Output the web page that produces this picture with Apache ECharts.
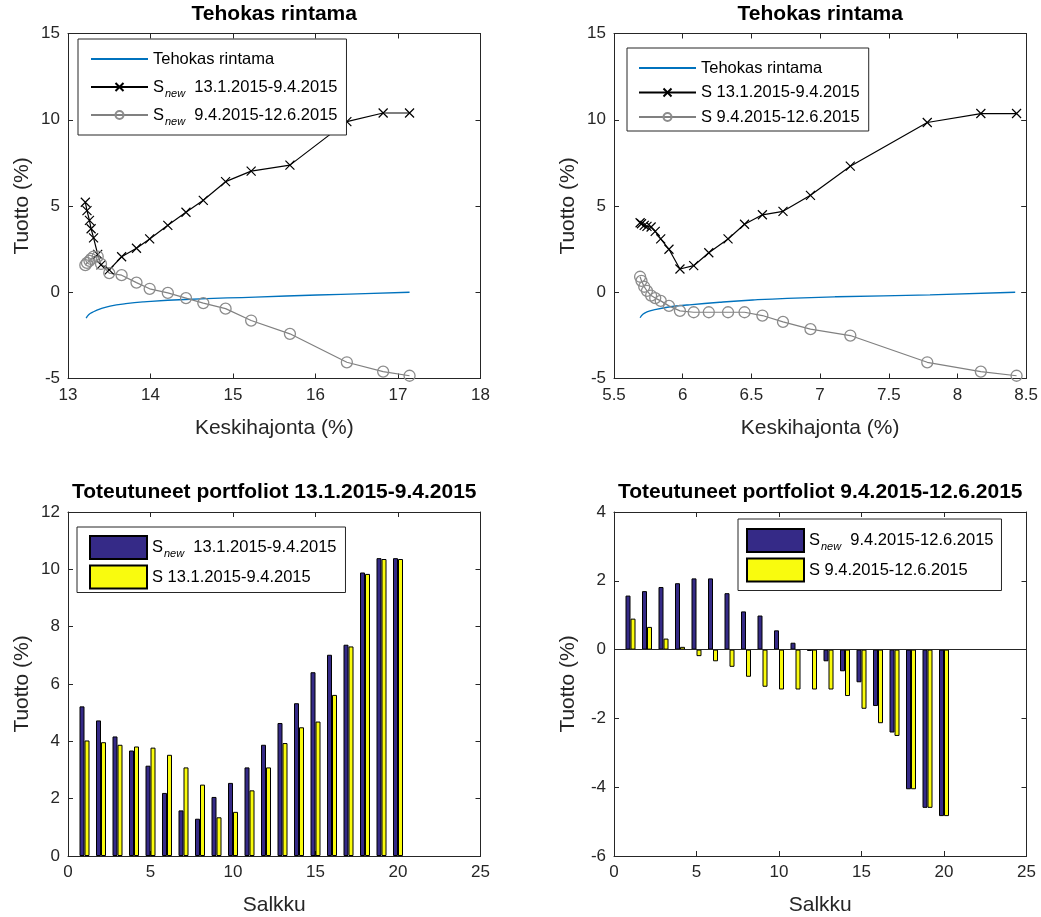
<!DOCTYPE html>
<html>
<head>
<meta charset="utf-8">
<title>Tehokas rintama</title>
<script src="https://cdn.jsdelivr.net/npm/echarts@6/dist/echarts.min.js"></script>
<style>
    html,body{margin:0;padding:0;background:#fff;}
    #main{width:1041px;height:917px;}
</style>
</head>
<body>
<div id="main"></div>
<script>
    // salkut 1..20
    var salkku = [1,2,3,4,5,6,7,8,9,10,11,12,13,14,15,16,17,18,19,20];
    // keskihajonnat (%) arviointijaksolla
    var snewStd = [13.21,13.23,13.26,13.28,13.31,13.36,13.40,13.50,13.65,13.83,13.99,14.21,14.43,14.64,14.91,15.22,15.69,16.38,16.82,17.14];
    var sStd = [5.69,5.70,5.72,5.74,5.77,5.80,5.84,5.90,5.98,6.08,6.19,6.33,6.45,6.58,6.73,6.93,7.22,7.78,8.17,8.43];
    // toteutuneet tuotot (%) 13.1.2015-9.4.2015
    var snewTuotto1 = [5.22,4.73,4.17,3.68,3.15,2.20,1.59,1.30,2.06,2.55,3.09,3.88,4.64,5.33,6.41,7.02,7.37,9.89,10.39,10.39];
    var sTuotto1 = [4.03,3.97,3.88,3.82,3.78,3.53,3.09,2.49,1.35,1.54,2.29,3.09,3.94,4.49,4.69,5.62,7.31,9.84,10.36,10.36];
    // toteutuneet tuotot (%) 9.4.2015-12.6.2015
    var snewTuotto2 = [1.57,1.70,1.82,1.93,2.07,2.07,1.64,1.11,0.99,0.56,0.20,-0.04,-0.34,-0.63,-0.95,-1.64,-2.41,-4.06,-4.60,-4.84];
    var sTuotto2 = [0.90,0.66,0.32,0.08,-0.19,-0.34,-0.50,-0.79,-1.08,-1.16,-1.16,-1.16,-1.16,-1.35,-1.72,-2.14,-2.51,-4.06,-4.60,-4.84];
    // tehokas rintama
    var rintamaStd1 = [13.22,13.25,13.30,13.40,13.51,13.70,13.92,14.42,15.27,16.02,16.60,17.14];
    var rintamaTuotto1 = [-1.50,-1.30,-1.15,-0.95,-0.80,-0.66,-0.56,-0.42,-0.28,-0.16,-0.08,0.00];
    var rintamaStd2 = [5.69,5.71,5.74,5.79,5.91,6.03,6.27,6.51,6.76,7.12,7.80,8.42];
    var rintamaTuotto2 = [-1.48,-1.28,-1.14,-1.02,-0.84,-0.74,-0.58,-0.45,-0.35,-0.26,-0.15,0.00];

    var legendNames = {
        front1: 'Tehokas rintama',
        front2: 'Tehokas rintama',
        snew1: '{s|S}{sub|new}{s|  13.1.2015-9.4.2015}',
        snew2: '{s|S}{sub|new}{s|  9.4.2015-12.6.2015}',
        s1: 'S 13.1.2015-9.4.2015',
        s2: 'S 9.4.2015-12.6.2015',
        barSnew1: '{s|S}{sub|new}{s|  13.1.2015-9.4.2015}',
        barS1: 'S 13.1.2015-9.4.2015',
        barSnew2: '{s|S}{sub|new}{s|  9.4.2015-12.6.2015}',
        barS2: 'S 9.4.2015-12.6.2015'
    };

    function pairs(xs, ys) {
        return xs.map(function (x, i) { return [x, ys[i]]; });
    }

    var axisColor = '#262626';
    var font = 'Liberation Sans, Arial, sans-serif';
    var grids = [
        {left: 68, top: 33.5, width: 412.5, height: 345},
        {left: 614, top: 33.5, width: 412.5, height: 345},
        {left: 68, top: 512, width: 412.5, height: 344.5},
        {left: 614, top: 512, width: 412.5, height: 344.5}
    ];
    var xRanges = [[13, 18, 1, 'Keskihajonta (%)'], [5.5, 8.5, 0.5, 'Keskihajonta (%)'], [0, 25, 5, 'Salkku'], [0, 25, 5, 'Salkku']];
    var yRanges = [[-5, 15, 5], [-5, 15, 5], [0, 12, 2], [-6, 4, 2]];

    var xAxes = [], yAxes = [];
    grids.forEach(function (g, i) {
        var xr = xRanges[i], yr = yRanges[i];
        // pääakselit + laatikon ylä- ja oikea reuna
        xAxes.push({
            type: 'value', gridIndex: i, min: xr[0], max: xr[1], interval: xr[2], position: 'bottom',
            name: xr[3], nameLocation: 'middle', nameGap: 39,
            nameTextStyle: {fontSize: 21, color: axisColor, fontFamily: font},
            axisLine: {onZero: false, lineStyle: {color: axisColor, width: 1}},
            axisTick: {inside: true, length: 5, lineStyle: {color: axisColor}},
            axisLabel: {fontSize: 17, color: axisColor, margin: 8, fontFamily: font},
            splitLine: {show: false}
        });
        xAxes.push({
            type: 'value', gridIndex: i, min: xr[0], max: xr[1], interval: xr[2], position: 'top',
            axisLine: {onZero: false, lineStyle: {color: axisColor, width: 1}},
            axisTick: {inside: true, length: 5, lineStyle: {color: axisColor}},
            axisLabel: {show: false}, splitLine: {show: false}
        });
        yAxes.push({
            type: 'value', gridIndex: i, min: yr[0], max: yr[1], interval: yr[2], position: 'left',
            name: 'Tuotto (%)', nameLocation: 'middle', nameGap: 35,
            nameTextStyle: {fontSize: 21, color: axisColor, fontFamily: font},
            axisLine: {show: true, onZero: false, lineStyle: {color: axisColor, width: 1}},
            axisTick: {show: true, inside: true, length: 5, lineStyle: {color: axisColor}},
            axisLabel: {fontSize: 17, color: axisColor, margin: 8, fontFamily: font},
            splitLine: {show: false}
        });
        yAxes.push({
            type: 'value', gridIndex: i, min: yr[0], max: yr[1], interval: yr[2], position: 'right',
            axisLine: {show: true, onZero: false, lineStyle: {color: axisColor, width: 1}},
            axisTick: {show: true, inside: true, length: 5, lineStyle: {color: axisColor}},
            axisLabel: {show: false}, splitLine: {show: false}
        });
    });

    var crossPath = 'path://M0,0L10,10M0,10L10,0';
    var navy = '#352A87', yellow = '#F9FB0E', blue = '#0072BD', grey = '#808080';

    function frontier(name, g, xs, ys) {
        return {
            name: name, type: 'line', xAxisIndex: 2 * g, yAxisIndex: 2 * g,
            data: pairs(xs, ys), smooth: true, symbol: 'none',
            lineStyle: {color: blue, width: 1.3}, itemStyle: {color: blue}, animation: false
        };
    }
    function crossLine(name, g, xs, ys) {
        return {
            name: name, type: 'line', xAxisIndex: 2 * g, yAxisIndex: 2 * g,
            data: pairs(xs, ys), symbol: crossPath, symbolSize: 9,
            lineStyle: {color: '#000', width: 1.2},
            itemStyle: {color: '#000', borderColor: '#000', borderWidth: 1.2}, animation: false
        };
    }
    function circleLine(name, g, xs, ys) {
        return {
            name: name, type: 'line', xAxisIndex: 2 * g, yAxisIndex: 2 * g,
            data: pairs(xs, ys), symbol: 'circle', symbolSize: 11,
            lineStyle: {color: grey, width: 1.2},
            itemStyle: {color: 'rgba(0,0,0,0)', borderColor: '#8c8c8c', borderWidth: 1.3}, animation: false
        };
    }
    function bars(name, g, ys, color) {
        return {
            name: name, type: 'bar', xAxisIndex: 2 * g, yAxisIndex: 2 * g,
            data: pairs(salkku, ys), barWidth: 5, barGap: '0%',
            itemStyle: {color: color, borderColor: '#000', borderWidth: 1}, animation: false
        };
    }

    var series = [
        frontier('front1', 0, rintamaStd1, rintamaTuotto1),
        crossLine('snew1', 0, snewStd, snewTuotto1),
        circleLine('snew2', 0, snewStd, snewTuotto2),
        frontier('front2', 1, rintamaStd2, rintamaTuotto2),
        crossLine('s1', 1, sStd, sTuotto1),
        circleLine('s2', 1, sStd, sTuotto2),
        bars('barSnew1', 2, snewTuotto1, navy),
        bars('barS1', 2, sTuotto1, yellow),
        bars('barSnew2', 3, snewTuotto2, navy),
        bars('barS2', 3, sTuotto2, yellow)
    ];
    // nollataso alaoikealla
    series[8].markLine = {
        silent: true, symbol: 'none', label: {show: false},
        lineStyle: {color: axisColor, type: 'solid', width: 1},
        data: [{yAxis: 0}]
    };

    var richText = {
        s: {fontSize: 16.5, lineHeight: 24, color: '#000', fontFamily: font, verticalAlign: 'middle'},
        sub: {fontSize: 11, lineHeight: 12, color: '#000', fontFamily: font, fontStyle: 'italic', verticalAlign: 'bottom', padding: [0, 0, 0, 1]}
    };
    function legend(names, left, top, padding, itemHeight, itemGap, lineHeight) {
        return {
            data: names, orient: 'vertical', left: left, top: top, padding: padding,
            itemWidth: 57, itemHeight: itemHeight, itemGap: itemGap,
            backgroundColor: '#fff', borderColor: axisColor, borderWidth: 1, borderRadius: 0,
            selectedMode: false,
            formatter: function (n) { return legendNames[n]; },
            textStyle: {fontSize: 16.5, color: '#000', fontFamily: font, lineHeight: lineHeight,
                rich: {s: Object.assign({}, richText.s, {lineHeight: lineHeight}), sub: richText.sub}}
        };
    }
    function lineItems(names) {
        // rintamalla ei merkkiä selitteessä
        return names.map(function (n, i) {
            return i === 0 ? {name: n, itemStyle: {opacity: 0}} : {name: n};
        });
    }
    function barItems(names) {
        return names.map(function (n) { return {name: n, icon: 'rect'}; });
    }
    function titleAt(text, x, y) {
        return {text: text, left: x, top: y, textAlign: 'center', padding: 0,
            textStyle: {fontSize: 21, fontWeight: 'bold', color: '#000', fontFamily: font}};
    }

    var option = {
        backgroundColor: '#fff',
        animation: false,
        textStyle: {fontFamily: font},
        title: [
            titleAt('Tehokas rintama', 274.25, 4),
            titleAt('Tehokas rintama', 820.25, 4),
            titleAt('Toteutuneet portfoliot 13.1.2015-9.4.2015', 274.25, 482),
            titleAt('Toteutuneet portfoliot 9.4.2015-12.6.2015', 820.25, 482)
        ],
        legend: [
            legend(lineItems(['front1', 'snew1', 'snew2']), 78, 39, [8, 9, 8, 12], 10, 4, 24),
            legend(lineItems(['front2', 's1', 's2']), 627, 48, [10, 9, 4, 11], 10, 4.5, 20),
            legend(barItems(['barSnew1', 'barS1']), 77, 527, [8, 9, 3, 12], 23, 4.5, 23),
            legend(barItems(['barSnew2', 'barS2']), 738, 519, [9, 8, 8, 8], 23, 4.5, 23)
        ],
        grid: grids,
        xAxis: xAxes,
        yAxis: yAxes,
        series: series
    };

    var myChart = echarts.init(document.getElementById('main'));
    myChart.setOption(option);
</script>
</body>
</html>
